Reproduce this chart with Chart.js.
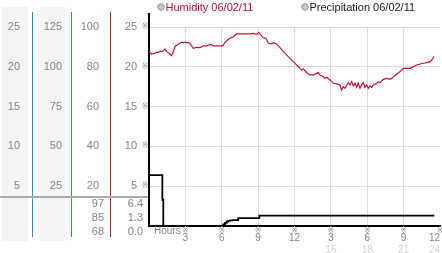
<!DOCTYPE html>
<html>
<head>
<meta charset="utf-8">
<script src="https://cdn.jsdelivr.net/npm/chart.js@4/dist/chart.umd.min.js"></script>
<style>
  html, body { margin: 0; padding: 0; background: #fff; }
  canvas { display: block; }
</style>
</head>
<body>
<canvas id="weatherChart" width="442" height="253"></canvas>
<script>
// humidity trace, hours after midnight / percent
const humHours = [0, 0.22, 0.49, 0.64, 0.77, 0.91, 1.05, 1.32, 1.46, 1.65,
  1.87, 2.0, 2.14, 2.42, 2.7, 2.97, 3.32, 3.52, 3.65, 3.93,
  4.21, 4.48, 4.76, 5.03, 5.17, 5.3, 5.58, 6.08, 6.27, 6.54,
  6.95, 7.23, 7.78, 8.33, 8.6, 8.88, 9.07, 9.21, 9.43, 9.65,
  9.84, 10.12, 10.25, 10.53, 10.8, 11.08, 11.36, 11.63, 11.9, 12.18,
  12.45, 12.59, 12.73, 13.01, 13.28, 13.55, 13.83, 13.96, 14.1, 14.38,
  14.52, 14.66, 14.93, 15.2, 15.48, 15.75, 15.89, 16.02, 16.16, 16.44,
  16.58, 16.72, 16.85, 16.99, 17.13, 17.26, 17.4, 17.54, 17.67, 17.81,
  17.95, 18.09, 18.23, 18.37, 18.5, 18.78, 18.91, 19.05, 19.32, 19.6,
  19.88, 20.15, 20.43, 20.7, 20.97, 21.25, 21.53, 21.8, 22.08, 22.35,
  22.63, 22.91, 23.18, 23.32, 23.51];
const humValues = [87.6, 86.4, 86.8, 87.4, 87.1, 87.9, 87.6, 88.9, 87.6, 86.8,
  85.6, 87.6, 90.1, 91.5, 92.3, 92.3, 92.1, 90.5, 89.3, 89.8,
  89.6, 90.5, 90.5, 91.3, 91.0, 90.5, 90.5, 90.5, 92.3, 93.8,
  95.1, 96.5, 96.5, 96.5, 96.8, 96.3, 97.3, 96.0, 94.6, 94.3,
  91.8, 91.5, 92.1, 91.5, 89.6, 87.6, 85.9, 84.2, 82.6, 80.9,
  79.2, 78.4, 78.9, 77.0, 75.9, 75.9, 76.7, 77.2, 75.9, 75.0,
  74.2, 74.7, 73.4, 71.7, 71.4, 70.9, 68.3, 70.0, 69.2, 72.0,
  70.9, 72.5, 70.4, 71.7, 69.7, 71.7, 69.2, 70.9, 72.0, 69.7,
  70.9, 69.2, 70.4, 69.7, 70.9, 71.7, 72.5, 72.0, 73.7, 74.2,
  73.7, 74.7, 76.4, 77.5, 79.2, 79.2, 79.2, 80.1, 80.9, 81.4,
  81.8, 82.1, 82.6, 83.4, 85.1];

// precipitation (stepped)
const rainHours = [0, 1.1, 1.18, 6.13, 6.27, 6.41, 6.54, 6.68, 6.9, 7.36, 9.1, 23.53];
const rainValues = [6.4, 3.3, 0, 0.2, 0.4, 0.55, 0.65, 0.7, 0.75, 1.0, 1.3, 1.3];

// max / last / min table under the columns
const humStats = ['97', '85', '68'];
const rainStats = ['6.4', '1.3', '0.0'];

const legendLabels = ['Humidity 06/02/11', 'Precipitation 06/02/11'];
const hourTicks = [3, 6, 9, 12, 15, 18, 21, 24];

const FONT = '"Liberation Sans", Arial, sans-serif';
const RED = '#cc1133';
const LABEL = '#858585';

Chart.defaults.font.family = FONT;
Chart.defaults.font.size = 11;
Chart.defaults.color = LABEL;

const toPoints = (xs, ys) => xs.map((x, i) => ({ x: x, y: ys[i] }));

// left column axes: width of the box, tick padding
function colAxis(max, step, weight, width, pad) {
  return {
    position: 'left',
    weight: weight,
    min: 0,
    max: max,
    grid: { display: false, drawTicks: false },
    border: { display: false },
    ticks: {
      stepSize: step,
      padding: pad,
      color: LABEL,
      callback: v => (v === 0 ? '' : v)
    },
    afterFit(s) {
      s.width = width;
      s.paddingTop = 0;
      s.paddingBottom = 0;
    }
  };
}

const decor = {
  id: 'decor',
  beforeDraw(chart) {
    const ctx = chart.ctx;
    const a = chart.scales.colA, b = chart.scales.colB;
    ctx.save();
    ctx.fillStyle = '#f4f4f4';
    ctx.fillRect(a.left + 2, 7, a.right - a.left - 7, 234);
    ctx.fillRect(b.left + 7, 7, b.right - b.left - 14, 234);
    ctx.restore();
  },
  afterDraw(chart) {
    const ctx = chart.ctx;
    const area = chart.chartArea;
    const sc = chart.scales;
    ctx.save();

    // coloured column rules
    [['colA', '#2299cc'], ['colB', '#22aa22'], ['hum', '#bb2222']].forEach(([id, col]) => {
      const x = Math.round(sc[id].right) - 0.5;
      ctx.strokeStyle = col;
      ctx.lineWidth = 1;
      ctx.beginPath();
      ctx.moveTo(x, 12);
      ctx.lineTo(x, 237);
      ctx.stroke();
    });

    // black axis runs up past the top grid line
    ctx.strokeStyle = '#000';
    ctx.lineWidth = 2;
    ctx.beginPath();
    ctx.moveTo(area.left, 13);
    ctx.lineTo(area.left, area.top);
    ctx.stroke();

    // separator above the summary table
    ctx.strokeStyle = '#aaa';
    ctx.lineWidth = 2;
    ctx.beginPath();
    ctx.moveTo(0, area.bottom - 29);
    ctx.lineTo(area.left - 1, area.bottom - 29);
    ctx.stroke();

    // summary table
    ctx.fillStyle = LABEL;
    ctx.font = '11px ' + FONT;
    ctx.textAlign = 'right';
    ctx.textBaseline = 'middle';
    [-22, -8, 6].forEach((dy, i) => {
      ctx.fillText(humStats[i], sc.hum.right - 7, area.bottom + dy);
      ctx.fillText(rainStats[i], sc.y.right - 6, area.bottom + dy);
    });

    // "Hours" caption
    ctx.textAlign = 'left';
    ctx.font = '10px ' + FONT;
    ctx.fillText('Hours', area.left + 5, area.bottom + 5);

    // small tick marks
    ctx.fillStyle = '#999';
    ctx.font = '8px "DejaVu Sans"';
    ctx.textAlign = 'center';
    hourTicks.forEach(h => ctx.fillText('※', sc.x.getPixelForValue(h), area.bottom + 5));
    [5, 10, 15, 20, 25].forEach(v => ctx.fillText('※', area.left - 4, sc.y.getPixelForValue(v)));

    // legend
    ctx.font = '11px ' + FONT;
    ctx.textAlign = 'left';
    ctx.textBaseline = 'alphabetic';
    [[area.left + 12, RED], [area.left + 156, '#222']].forEach(([x, col], i) => {
      ctx.beginPath();
      ctx.arc(x, 7, 3.3, 0, Math.PI * 2);
      ctx.fillStyle = '#c8c8c8';
      ctx.fill();
      ctx.strokeStyle = '#999';
      ctx.lineWidth = 1;
      ctx.stroke();
      ctx.fillStyle = col;
      ctx.fillText(legendLabels[i], x + 4.5, 11);
    });
    ctx.restore();
  }
};

new Chart(document.getElementById('weatherChart'), {
  type: 'line',
  data: {
    datasets: [{
      label: legendLabels[1],
      data: toPoints(rainHours, rainValues),
      yAxisID: 'y',
      borderColor: '#000',
      borderWidth: 1.8,
      stepped: true,
      pointRadius: 0,
      fill: false
    }, {
      label: legendLabels[0],
      data: toPoints(humHours, humValues),
      yAxisID: 'hum',
      borderColor: RED,
      borderWidth: 1.2,
      pointRadius: 0,
      fill: false
    }]
  },
  options: {
    responsive: false,
    animation: false,
    events: [],
    layout: { padding: { top: 27, right: 2, left: 0, bottom: 0 } },
    plugins: { legend: { display: false }, tooltip: { enabled: false } },
    scales: {
      x: {
        type: 'linear',
        position: 'bottom',
        weight: 1,
        min: 0,
        max: 24,
        grid: {
          drawTicks: false,
          color: c => (c.tick && c.tick.value > 0 && c.tick.value < 24 ? '#dddddd' : 'rgba(0,0,0,0)')
        },
        border: { color: '#000', width: 2 },
        ticks: {
          stepSize: 3,
          padding: 6,
          align: 'inner',
          font: { size: 10 },
          color: LABEL,
          maxRotation: 0,
          autoSkip: false,
          callback: v => (v === 0 ? '' : (v > 12 ? v - 12 : v))
        },
        afterFit(s) { s.height = 18; s.paddingLeft = 0; s.paddingRight = 0; }
      },
      x2: {
        type: 'linear',
        position: 'bottom',
        weight: 2,
        min: 0,
        max: 24,
        grid: { display: false, drawTicks: false },
        border: { display: false },
        ticks: {
          stepSize: 3,
          padding: 0,
          align: 'inner',
          font: { size: 10 },
          color: '#d4d4d4',
          maxRotation: 0,
          autoSkip: false,
          callback: v => (v > 12 ? v : '')
        },
        afterFit(s) { s.height = 9; s.paddingLeft = 0; s.paddingRight = 0; }
      },
      colA: colAxis(25, 5, 40, 33, 13),
      colB: colAxis(125, 25, 30, 39, 10),
      hum: colAxis(100, 20, 20, 39, 12),
      y: {
        position: 'left',
        weight: 10,
        min: 0,
        max: 25,
        grid: { color: '#dddddd', drawTicks: false },
        border: { color: '#000', width: 2 },
        ticks: {
          stepSize: 5,
          padding: 12,
          color: LABEL,
          callback: v => (v === 0 ? '' : v)
        },
        afterFit(s) { s.width = 38; s.paddingTop = 0; s.paddingBottom = 0; }
      }
    }
  },
  plugins: [decor]
});
</script>
</body>
</html>
